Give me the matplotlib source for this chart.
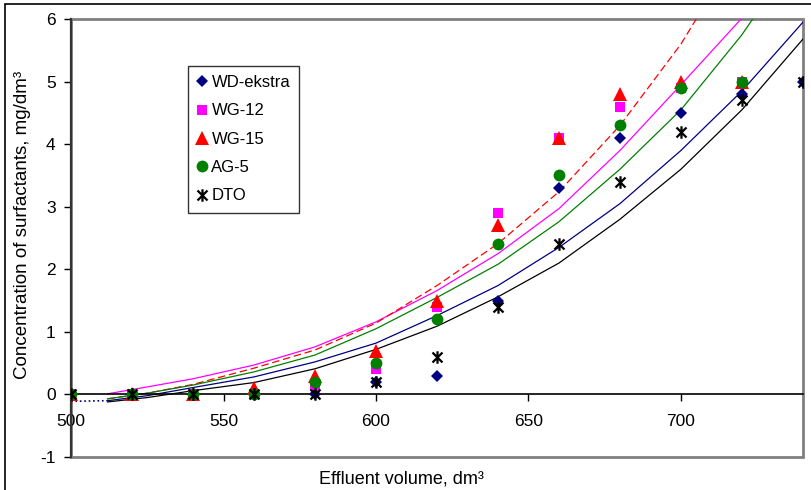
import matplotlib.pyplot as plt
from matplotlib.path import Path
from matplotlib.patches import Rectangle

plt.rcParams['font.family'] = ['Liberation Sans', 'DejaVu Sans']
plt.rcParams['axes.unicode_minus'] = False

# measured points
volume = [500, 520, 540, 560, 580, 600, 620, 640, 660, 680, 700, 720, 740]
wd_ekstra = [0, 0, 0, 0, 0, 0.2, 0.3, 1.5, 3.3, 4.1, 4.5, 4.8, 5.0]
wg_12 = [0, 0, 0, 0, 0.15, 0.4, 1.4, 2.9, 4.1, 4.6, 4.9, 5.0]
wg_15 = [0, 0, 0, 0.1, 0.3, 0.7, 1.5, 2.7, 4.1, 4.8, 5.0, 5.0]
ag_5 = [0, 0, 0, 0, 0.2, 0.5, 1.2, 2.4, 3.5, 4.3, 4.9, 5.0]
dto = [0, 0, 0, 0, 0, 0.2, 0.6, 1.4, 2.4, 3.4, 4.2, 4.7, 5.0]

# trend lines
trend_x = [512, 525, 540, 560, 580, 600, 620, 640, 660, 680, 700, 720, 740]
trend_wd = [-0.10, -0.02, 0.11, 0.28, 0.52, 0.82, 1.26, 1.74, 2.35, 3.05, 3.9, 4.85, 5.95]
trend_wd_back_x = [500, 512]
trend_wd_back = [-0.11, -0.10]
trend_dto = [-0.12, -0.05, 0.06, 0.19, 0.41, 0.72, 1.09, 1.56, 2.1, 2.8, 3.6, 4.55, 5.68]
trend_ag5_x = [512, 525, 540, 560, 580, 600, 620, 640, 660, 680, 700, 720, 723.5]
trend_ag5 = [-0.07, 0.02, 0.15, 0.36, 0.63, 1.05, 1.55, 2.08, 2.76, 3.6, 4.55, 5.75, 6.0]
trend_wg15_x = [512, 525, 540, 560, 580, 600, 620, 640, 660, 680, 700, 705]
trend_wg15 = [-0.07, 0.02, 0.16, 0.42, 0.71, 1.14, 1.74, 2.41, 3.24, 4.3, 5.6, 6.0]
trend_wg12_x = [512, 525, 540, 560, 580, 600, 620, 640, 660, 680, 700, 719.7]
trend_wg12 = [0.01, 0.12, 0.25, 0.47, 0.76, 1.16, 1.66, 2.25, 2.97, 3.9, 4.95, 6.0]

x_ticks = [500, 550, 600, 650, 700]
y_ticks = [-1, 0, 1, 2, 3, 4, 5, 6]

star = Path([(-1, -1), (1, 1), (-1, 1), (1, -1), (0, -1.25), (0, 1.25)],
            [Path.MOVETO, Path.LINETO, Path.MOVETO, Path.LINETO, Path.MOVETO, Path.LINETO])

fig = plt.figure(figsize=(8.11, 4.90), dpi=100)
ax = fig.add_axes([71 / 811, 33 / 490, 732 / 811, 438 / 490])

ax.plot(trend_wd_back_x, trend_wd_back, ':', color='#000080', lw=1.2, zorder=2)
ax.plot(trend_x, trend_wd, color='#000080', lw=0.9, zorder=2)
ax.plot(trend_wg12_x, trend_wg12, color='#FF00FF', lw=0.9, zorder=2)
ax.plot(trend_wg15_x, trend_wg15, color='#FF0000', lw=0.9, dashes=(6, 3), zorder=2)
ax.plot(trend_ag5_x, trend_ag5, color='#008000', lw=0.9, zorder=2)
ax.plot(trend_x, trend_dto, color='black', lw=0.9, zorder=2)

ax.plot(volume, wd_ekstra, 'D', color='#000080', ms=6.5, mew=0, label='WD-ekstra', zorder=3)
ax.plot(volume[:len(wg_12)], wg_12, 's', color='#FF00FF', ms=7.5, mew=0, label='WG-12', zorder=3)
ax.plot(volume[:len(wg_15)], wg_15, '^', color='#FF0000', ms=9.5, mew=0, label='WG-15', zorder=3)
ax.plot(volume[:len(ag_5)], ag_5, 'o', color='#008000', ms=8.5, mew=0, label='AG-5', zorder=3)
ax.plot(volume, dto, marker=star, ls='none', color='black', ms=9, mew=1.6, label='DTO', zorder=3)

ax.set_xlim(500, 740)
ax.set_ylim(-1, 6)
ax.set_xticks(x_ticks)
ax.set_yticks(y_ticks)

for side in ['top', 'right']:
    ax.spines[side].set_visible(False)
ax.spines['bottom'].set_position(('data', 0))
ax.spines['bottom'].set_color('black')
ax.spines['bottom'].set_linewidth(1.2)
ax.spines['left'].set_color('#333333')
ax.spines['left'].set_linewidth(1.6)
ax.add_patch(Rectangle((0, 0), 1, 1, transform=ax.transAxes, fill=False,
                       edgecolor='#808080', lw=2, clip_on=False, zorder=1))

ax.tick_params(axis='both', direction='out', length=5, width=1, labelsize=12.5, color='black')
ax.tick_params(axis='x', pad=9)
ax.tick_params(axis='y', pad=6)

ax.set_xlabel('Effluent volume, dm³', fontsize=13)
ax.set_ylabel('Concentration of surfactants, mg/dm³', fontsize=13.5)
ax.xaxis.set_label_coords(0.452, -0.03)
ax.yaxis.set_label_coords(-0.055, 0.53)

leg = ax.legend(loc='upper left', bbox_to_anchor=(0.16, 0.893), borderaxespad=0,
                fontsize=12, frameon=True, fancybox=False, edgecolor='black',
                handlelength=0.6, handletextpad=0.25, labelspacing=0.8, borderpad=0.55)
leg.get_frame().set_linewidth(1)

fig.patches.append(Rectangle((5 / 811, -0.5), 1.5, 1.5 - 4 / 490, transform=fig.transFigure,
                             fill=False, edgecolor='black', lw=1.2))

fig.savefig('out.png', dpi=100)
